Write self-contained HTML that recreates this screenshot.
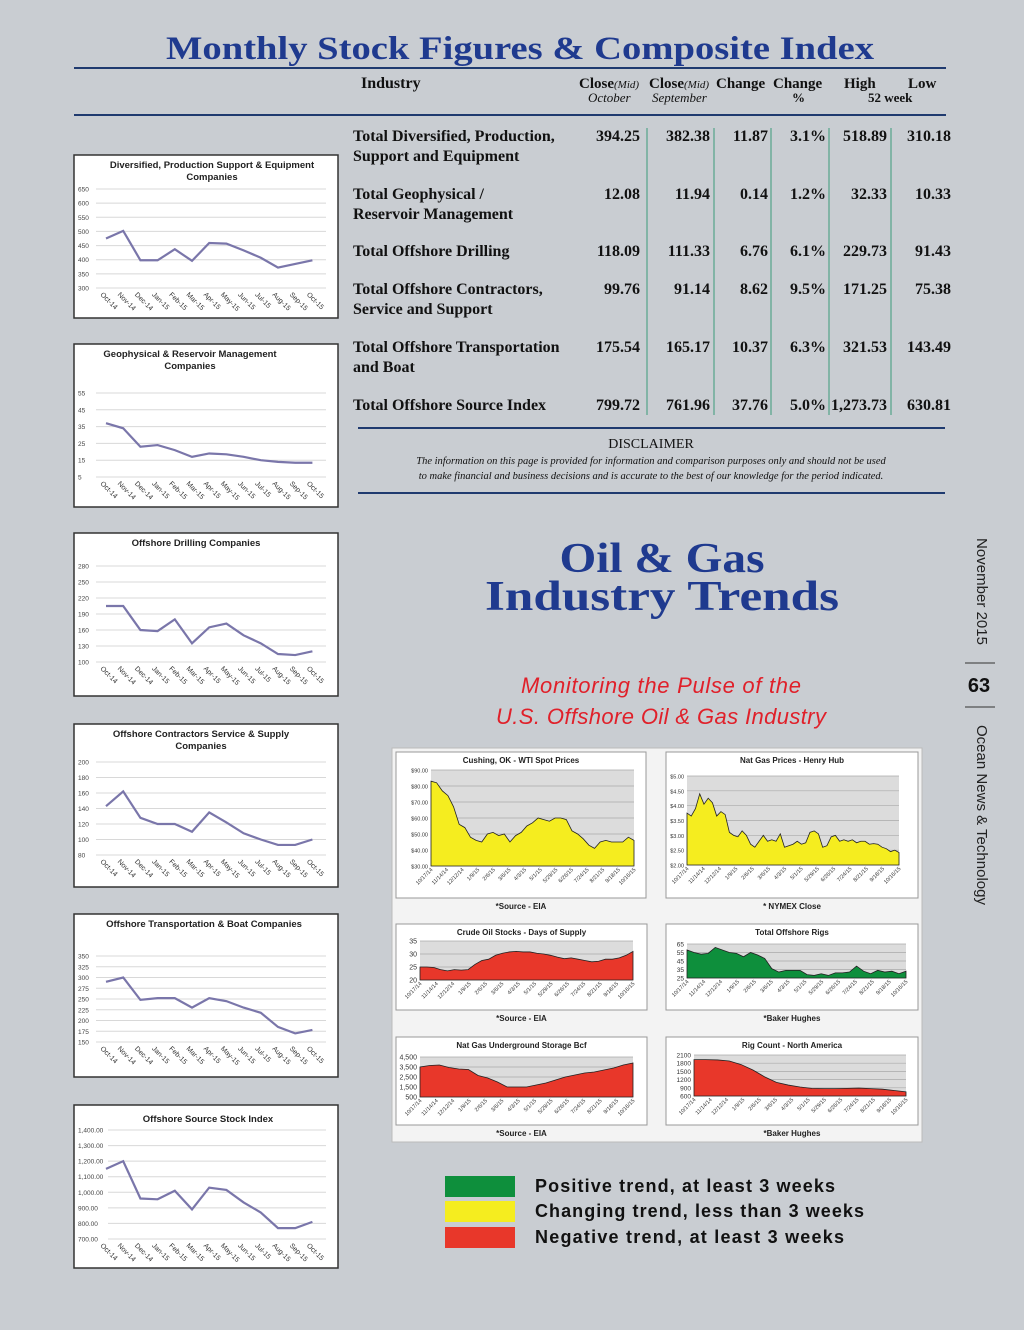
<!DOCTYPE html>
<html><head><meta charset="utf-8"><style>
html,body{margin:0;padding:0;background:#c9cdd2;}
svg{display:block;}
.ser{font-family:"Liberation Serif",serif;}
.sans{font-family:"Liberation Sans",sans-serif;}
</style></head><body>
<svg id="pg" width="1024" height="1330" viewBox="0 0 1024 1330" xmlns="http://www.w3.org/2000/svg">
<rect width="1024" height="1330" fill="#c9cdd2"/>
<text class="ser" x="520" y="59" text-anchor="middle" font-size="33" font-weight="bold" fill="#1f3a8f" textLength="708" lengthAdjust="spacingAndGlyphs">Monthly Stock Figures &amp; Composite Index</text>
<line x1="74" y1="68" x2="946" y2="68" stroke="#1f3a6f" stroke-width="2"/>
<line x1="74" y1="115" x2="946" y2="115" stroke="#1f3a6f" stroke-width="2"/>
<g class="ser" fill="#111">
<text x="361" y="88" font-size="16" font-weight="bold">Industry</text>
<text x="579" y="88" font-size="15" font-weight="bold">Close<tspan font-size="11" font-style="italic" font-weight="normal">(Mid)</tspan></text>
<text x="588" y="102" font-size="13" font-style="italic">October</text>
<text x="649" y="88" font-size="15" font-weight="bold">Close<tspan font-size="11" font-style="italic" font-weight="normal">(Mid)</tspan></text>
<text x="652" y="102" font-size="13" font-style="italic">September</text>
<text x="716" y="88" font-size="15" font-weight="bold">Change</text>
<text x="773" y="88" font-size="15" font-weight="bold">Change</text>
<text x="792" y="102" font-size="13" font-weight="bold">%</text>
<text x="844" y="88" font-size="15" font-weight="bold">High</text>
<text x="908" y="88" font-size="15" font-weight="bold">Low</text>
<text x="868" y="102" font-size="13" font-weight="bold">52 week</text>
</g>
<g id="tbl" class="ser" font-size="16" font-weight="bold" fill="#111"></g>
<line x1="358" y1="428" x2="945" y2="428" stroke="#1f3a6f" stroke-width="2"/>
<line x1="358" y1="493" x2="945" y2="493" stroke="#1f3a6f" stroke-width="2"/>
<text class="ser" x="651" y="448" text-anchor="middle" font-size="14" fill="#111">DISCLAIMER</text>
<text class="ser" x="651" y="464" text-anchor="middle" font-size="10.5" font-style="italic" fill="#111">The information on this page is provided for information and comparison purposes only and should not be used</text>
<text class="ser" x="651" y="479" text-anchor="middle" font-size="10.5" font-style="italic" fill="#111">to make financial and business decisions and is accurate to the best of our knowledge for the period indicated.</text>
<text class="ser" x="662" y="572" text-anchor="middle" font-size="42" font-weight="bold" fill="#1f3a8f" textLength="205" lengthAdjust="spacingAndGlyphs">Oil &amp; Gas</text>
<text class="ser" x="662" y="610" text-anchor="middle" font-size="42" font-weight="bold" fill="#1f3a8f" textLength="354" lengthAdjust="spacingAndGlyphs">Industry Trends</text>
<text class="sans" x="661" y="693" text-anchor="middle" font-size="22" font-style="italic" fill="#e0202a" textLength="280">Monitoring the Pulse of the</text>
<text class="sans" x="661" y="724" text-anchor="middle" font-size="22" font-style="italic" fill="#e0202a" textLength="330">U.S. Offshore Oil &amp; Gas Industry</text>
<text class="sans" transform="translate(977,538) rotate(90)" font-size="15" fill="#222" textLength="107">November 2015</text>
<line x1="965" y1="663" x2="995" y2="663" stroke="#333"/>
<text class="sans" x="979" y="692" text-anchor="middle" font-size="20" font-weight="bold" fill="#111">63</text>
<line x1="965" y1="707" x2="995" y2="707" stroke="#333"/>
<text class="sans" transform="translate(977,725) rotate(90)" font-size="15" fill="#222" textLength="180">Ocean News &amp; Technology</text>
<rect x="392" y="748" width="530" height="394" fill="#f3f3f3" stroke="#bbb"/>
<g id="charts"></g>
<rect x="445" y="1176" width="70" height="21" fill="#0e8f3c"/>
<rect x="445" y="1201" width="70" height="21" fill="#f5ed1f"/>
<rect x="445" y="1227" width="70" height="21" fill="#e8372a"/>
<g class="sans" font-size="18" font-weight="bold" fill="#111">
<text x="535" y="1192" textLength="300">Positive trend, at least 3 weeks</text>
<text x="535" y="1217" textLength="329">Changing trend, less than 3 weeks</text>
<text x="535" y="1243" textLength="309">Negative trend, at least 3 weeks</text>
</g>
</svg>
<script>
// ---- table data ----
const rowNames=[["Total Diversified, Production,","Support and Equipment"],["Total Geophysical /","Reservoir Management"],["Total Offshore Drilling"],["Total Offshore Contractors,","Service and Support"],["Total Offshore Transportation","and Boat"],["Total Offshore Source Index"]];
const colOct=["394.25","12.08","118.09","99.76","175.54","799.72"];
const colSep=["382.38","11.94","111.33","91.14","165.17","761.96"];
const colChg=["11.87","0.14","6.76","8.62","10.37","37.76"];
const colPct=["3.1%","1.2%","6.1%","9.5%","6.3%","5.0%"];
const colHigh=["518.89","32.33","229.73","171.25","321.53","1,273.73"];
const colLow=["310.18","10.33","91.43","75.38","143.49","630.81"];
// ---- left line charts ----
const months=["Oct-14","Nov-14","Dec-14","Jan-15","Feb-15","Mar-15","Apr-15","May-15","Jun-15","Jul-15","Aug-15","Sep-15","Oct-15"];
const divVals=[475,502,398,398,437,396,459,457,433,407,372,385,398];
const divTicks=[300,350,400,450,500,550,600,650];
const geoVals=[37,34,23,24,21,17,19,18.5,17,15,14,13.5,13.5];
const geoTicks=[5,15,25,35,45,55];
const drlVals=[205,205,160,158,180,135,165,172,150,135,115,113,120];
const drlTicks=[100,130,160,190,220,250,280];
const conVals=[143,162,128,120,120,110,135,122,108,100,93,93,100];
const conTicks=[80,100,120,140,160,180,200];
const trnVals=[290,300,248,252,252,230,252,245,230,218,185,170,178];
const trnTicks=[150,175,200,225,250,275,300,325,350];
const idxVals=[1150,1200,960,955,1010,890,1030,1015,935,870,770,770,810];
const idxTicks=[700,800,900,1000,1100,1200,1300,1400];
const idxTickLabels=["700.00","800.00","900.00","1,000.00","1,100.00","1,200.00","1,300.00","1,400.00"];
// ---- right area charts ----
const dateLabels=["10/17/14","11/14/14","12/12/14","1/9/15","2/6/15","3/6/15","4/3/15","5/1/15","5/29/15","6/26/15","7/24/15","8/21/15","9/18/15","10/16/15"];
const wtiVals=[83,82,77,74,67,56,54,48,46,45,50,51,49,50,45,49,51,55,57,60,59,58,60,60,59,52,50,47,43,41,45,46,45,45,45,48,46];
const wtiTicks=[30,40,50,60,70,80,90];
const wtiTickLabels=["$30.00","$40.00","$50.00","$60.00","$70.00","$80.00","$90.00"];
const gasVals=[3.75,3.65,3.9,4.4,4.05,4.25,4.1,3.65,3.8,3.7,3.1,3.0,2.95,3.15,3.0,2.7,2.6,2.8,3.0,2.8,2.85,2.8,3.05,2.6,2.65,2.7,2.8,2.7,2.75,3.1,3.15,3.05,2.6,2.65,2.95,3.0,2.8,2.85,2.8,2.85,2.75,2.8,2.8,2.7,2.72,2.7,2.6,2.55,2.45,2.5,2.42];
const gasTicks=[2,2.5,3,3.5,4,4.5,5];
const gasTickLabels=["$2.00","$2.50","$3.00","$3.50","$4.00","$4.50","$5.00"];
const crdVals=[25,25,24.8,24,23.5,24,23.8,24,26,27.5,28,29.5,30.3,30.8,31,30.8,30.8,30.3,30,29.5,28.8,28.2,28.5,28,27.5,27,27.2,28,28,28.5,29.5,31];
const crdTicks=[20,25,30,35];
const rigVals=[58,55,53,54,61,58,55,54,50,55,52,48,36,32,34,34,34,29,28,30,28,31,31,32,39,33,30,34,32,33,30,33];
const rigTicks=[25,35,45,55,65];
const stoVals=[3500,3650,3700,3450,3300,3250,2650,2400,2000,1500,1500,1500,1700,1900,2200,2500,2700,2900,3000,3200,3400,3700,3900];
const stoTicks=[500,1500,2500,3500,4500];
const stoTickLabels=["500","1,500","2,500","3,500","4,500"];
const nacVals=[1930,1930,1920,1880,1750,1550,1300,1100,1000,930,880,870,870,880,890,870,850,800,750];
const nacTicks=[600,900,1200,1500,1800,2100];

const NS="http://www.w3.org/2000/svg";
const svg=document.getElementById('pg');
function mk(tag,attrs,parent,txt){const e=document.createElementNS(NS,tag);for(const k in attrs)e.setAttribute(k,attrs[k]);if(txt!==undefined)e.textContent=txt;(parent||svg).appendChild(e);return e;}

// table
const tbl=document.getElementById('tbl');
const rowY=[141,199,256,294,352,410];
const cols=[colOct,colSep,colChg,colPct,colHigh,colLow];
const colR=[640,710,768,826,887,951];
[647,714,771,829,891].forEach(x=>{const l=mk('line',{x1:x,y1:128,x2:x,y2:415,stroke:'#3a9a7a','stroke-width':1},tbl);

});
rowNames.forEach((nm,i)=>{
  nm.forEach((s,j)=>{const t=mk('text',{x:353,y:rowY[i]+j*20},tbl,s);
  
  });
  cols.forEach((c,k)=>{const t=mk('text',{x:colR[k],y:rowY[i],'text-anchor':'end'},tbl,c[i]);
  
  });
});

// left line charts
function lineChart(cfg){
  const g=mk('g',{});
  
  
  const r=mk('rect',{x:74,y:cfg.box,width:264,height:163,fill:'#fff',stroke:'#333','stroke-width':1.5},g);
  
  
  cfg.title.forEach((s,j)=>{const t=mk('text',{x:cfg.tx||212,y:(cfg.ty||cfg.box+13)+j*12,'text-anchor':'middle','font-family':'Liberation Sans,sans-serif','font-size':9.5,'font-weight':'bold',fill:'#222'},g,s);
  
  });
  const min=cfg.ticks[0],max=cfg.ticks[cfg.ticks.length-1];
  const y=v=>cfg.bot-(v-min)/(max-min)*(cfg.bot-cfg.top);
  const x=i=>106+i*17.2;
  const gl0=cfg.gl||96;
  cfg.ticks.forEach((tv,k)=>{
    const gl=mk('line',{x1:gl0,x2:326,y1:y(tv),y2:y(tv),stroke:'#d8d8d8','stroke-width':1},g);
    
    
    const tl=mk('text',{x:78,y:y(tv)+2.5,'font-family':'Liberation Sans,sans-serif','font-size':6.5,fill:'#444'},g,cfg.labels?cfg.labels[k]:tv);
    
    
  });
  months.forEach((m,i)=>{const t=mk('text',{transform:`translate(${x(i)-6},${cfg.bot+7}) rotate(45)`,'font-family':'Liberation Sans,sans-serif','font-size':7,fill:'#333'},g,m);
  
  });
  const p=mk('polyline',{points:cfg.vals.map((v,i)=>x(i)+','+y(v)).join(' '),fill:'none',stroke:'#7a76aa','stroke-width':2.2},g);
  
  
}
lineChart({name:'diversified-chart',box:155,top:189,bot:288,ticks:divTicks,vals:divVals,title:['Diversified, Production Support & Equipment','Companies']});
lineChart({name:'geophysical-chart',box:344,top:393,bot:477,ticks:geoTicks,vals:geoVals,title:['Geophysical & Reservoir Management','Companies'],tx:190});
lineChart({name:'drilling-chart',box:533,top:566,bot:662,ticks:drlTicks,vals:drlVals,title:['Offshore Drilling Companies'],tx:196});
lineChart({name:'contractors-chart',box:724,top:762,bot:855,ticks:conTicks,vals:conVals,title:['Offshore Contractors Service & Supply','Companies'],tx:201});
lineChart({name:'transport-chart',box:914,top:956,bot:1042,ticks:trnTicks,vals:trnVals,title:['Offshore Transportation & Boat Companies'],tx:204});
lineChart({name:'index-chart',box:1105,top:1130,bot:1239,ticks:idxTicks,vals:idxVals,labels:idxTickLabels,title:['Offshore Source Stock Index'],tx:208,ty:1122,gl:108});

// right area charts
function areaChart(c){
  const g=mk('g',{});
  
  
  const r=mk('rect',{x:c.fx,y:c.fy,width:c.fw,height:c.fh,fill:'#fff',stroke:'#999'},g);
  
  
  const t=mk('text',{x:c.fx+c.fw/2,y:c.fy+11,'text-anchor':'middle','font-family':'Liberation Sans,sans-serif','font-size':8,'font-weight':'bold',fill:'#222'},g,c.title);
  
  
  const min=c.ticks[0],max=c.ticks[c.ticks.length-1];
  const y=v=>c.b-(v-min)/(max-min)*(c.b-c.t);
  const n=c.vals.length;
  const x=i=>c.l+i*(c.r-c.l)/(n-1);
  const bg=mk('rect',{x:c.l,y:c.t,width:c.r-c.l,height:c.b-c.t,fill:'#dcdcdc'},g);
  
  
  c.ticks.forEach((tv,k)=>{
    const gl=mk('line',{x1:c.l,x2:c.r,y1:y(tv),y2:y(tv),stroke:'#aaa','stroke-width':0.7},g);
    
    
    const tl=mk('text',{x:c.l-3,y:y(tv)+2.5,'text-anchor':'end','font-family':'Liberation Sans,sans-serif','font-size':c.fs||5.5,fill:'#333'},g,c.labels?c.labels[k]:tv);
    
    
  });
  const pts=c.vals.map((v,i)=>x(i)+','+y(v)).join(' ');
  const a=mk('polygon',{points:`${c.l},${c.b} ${pts} ${c.r},${c.b}`,fill:c.color,stroke:'#222','stroke-width':0.8},g);
  
  
  dateLabels.forEach((d,i)=>{const xx=c.l+i*(c.r-c.l)/(dateLabels.length-1);
    const tl=mk('text',{transform:`translate(${xx+2},${c.b+4}) rotate(-45)`,'text-anchor':'end','font-family':'Liberation Sans,sans-serif','font-size':5.5,fill:'#333'},g,d);
    
    });
  const s=mk('text',{x:c.fx+c.fw/2,y:c.fy+c.fh+11,'text-anchor':'middle','font-family':'Liberation Sans,sans-serif','font-size':8,'font-weight':'bold',fill:'#222'},g,c.src);
  
  
}
areaChart({name:'wti-chart',fx:396,fy:752,fw:250,fh:146,l:431,r:634,t:770,b:866,ticks:wtiTicks,labels:wtiTickLabels,vals:wtiVals,color:'#f5ed1f',title:'Cushing, OK  - WTI Spot Prices',src:'*Source - EIA'});
areaChart({name:'henry-hub-chart',fx:666,fy:752,fw:252,fh:146,l:687,r:899,t:776,b:865,ticks:gasTicks,labels:gasTickLabels,vals:gasVals,color:'#f5ed1f',title:'Nat Gas Prices - Henry Hub',src:'* NYMEX Close'});
areaChart({name:'crude-days-chart',fx:396,fy:924,fw:251,fh:86,l:420,r:633,t:941,b:980,ticks:crdTicks,vals:crdVals,color:'#e8372a',title:'Crude Oil Stocks - Days of Supply',src:'*Source - EIA',fs:7});
areaChart({name:'offshore-rigs-chart',fx:666,fy:924,fw:252,fh:86,l:687,r:906,t:944,b:978,ticks:rigTicks,vals:rigVals,color:'#0e8f3c',title:'Total Offshore Rigs',src:'*Baker Hughes',fs:6.5});
areaChart({name:'gas-storage-chart',fx:396,fy:1037,fw:251,fh:88,l:420,r:633,t:1057,b:1097,ticks:stoTicks,labels:stoTickLabels,vals:stoVals,color:'#e8372a',title:'Nat Gas Underground Storage Bcf',src:'*Source - EIA',fs:7});
areaChart({name:'rig-count-chart',fx:666,fy:1037,fw:252,fh:88,l:694,r:906,t:1055,b:1096,ticks:nacTicks,vals:nacVals,color:'#e8372a',title:'Rig Count - North America',src:'*Baker Hughes',fs:6.5});
</script>
</body></html>
